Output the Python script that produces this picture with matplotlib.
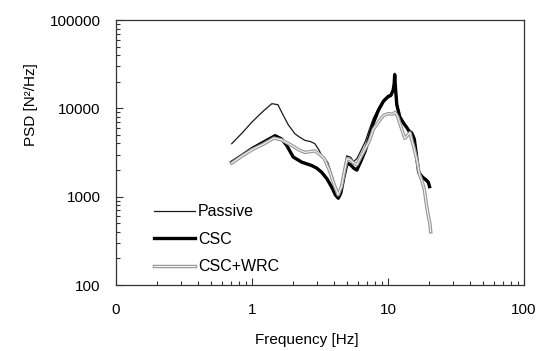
import matplotlib.pyplot as plt
import matplotlib.patheffects as pe
from matplotlib.ticker import FixedLocator, LogLocator, NullFormatter

plt.rcParams['font.family'] = ['Liberation Sans', 'DejaVu Sans']

# Passive
freq_passive = [0.71, 0.85, 1.0, 1.2, 1.4, 1.55, 1.7, 1.85, 2.07, 2.25, 2.45, 2.7,
                2.9, 3.1, 3.25, 3.6, 3.9, 4.15, 4.35, 4.6, 4.97, 5.3, 5.6, 5.9,
                6.3, 6.8, 7.3, 7.8, 8.5, 9.25, 10.0, 10.5, 10.9, 11.1, 11.2, 11.35,
                11.6, 12.2, 13.0, 13.7, 14.3, 14.9, 15.6, 16.3, 16.8, 17.2, 18.0,
                19.0, 19.8]
psd_passive = [3980, 5300, 7000, 9200, 11300, 11000, 8300, 6500, 5150, 4700, 4340, 4200,
               3980, 3400, 2940, 2460, 1700, 1200, 1050, 1500, 2900, 2800, 2500, 2700,
               3300, 4200, 5800, 7700, 10000, 12500, 14000, 14500, 16500, 20000, 25000, 19000,
               12000, 8200, 7000, 6200, 5600, 5400, 4800, 3000, 2100, 1800, 1700,
               1600, 1500]

# CSC
freq_csc = [0.71, 0.85, 1.0, 1.2, 1.48, 1.65, 1.8, 2.01, 2.32, 2.75, 3.0, 3.25,
            3.55, 3.86, 4.1, 4.31, 4.5, 4.75, 5.0, 5.3, 5.6, 5.9, 6.3, 6.8,
            7.3, 7.8, 8.5, 9.25, 10.0, 10.5, 10.9, 11.1, 11.2, 11.35, 11.6, 12.2,
            13.0, 13.7, 14.3, 14.9, 15.6, 16.3, 16.8, 17.2, 18.0, 19.0, 19.8, 20.2]
psd_csc = [2460, 2950, 3500, 4100, 4900, 4500, 3800, 2810, 2460, 2250, 2100, 1890,
           1600, 1280, 1050, 960, 1100, 1700, 2400, 2300, 2100, 2000, 2500, 3300,
           4800, 6800, 9500, 12000, 13500, 14000, 16000, 19000, 24000, 17000, 11000, 8000,
           6800, 6100, 5500, 5300, 4500, 2700, 1900, 1800, 1650, 1550, 1450, 1300]

# CSC+WRC
freq_wrc = [0.71, 0.85, 1.0, 1.2, 1.45, 1.65, 1.96, 2.2, 2.45, 2.9, 3.2, 3.4,
            3.7, 4.0, 4.3, 4.55, 4.8, 5.0, 5.3, 5.6, 5.9, 6.3, 6.8, 7.3,
            7.8, 8.5, 9.25, 10.0, 10.8, 11.3, 11.8, 12.2, 13.3, 14.0, 14.5, 15.0,
            15.5, 16.3, 17.0, 17.8, 18.5, 19.2, 19.8, 20.3, 20.6]
psd_wrc = [2400, 2900, 3400, 3900, 4600, 4400, 3800, 3400, 3170, 3300, 2950, 2700,
           2000, 1400, 1050, 1300, 2000, 2700, 2600, 2400, 2300, 2800, 3500, 4300,
           5800, 7000, 8300, 8700, 8600, 9000, 8000, 6800, 4570, 5000, 5300, 4300,
           3600, 2600, 1800, 1500, 1200, 800, 600, 500, 400]

x_ticks = [0.1, 1, 10, 100]
x_tick_labels = ['0', '1', '10', '100']
y_ticks = [100, 1000, 10000, 100000]
y_tick_labels = ['100', '1000', '10000', '100000']

fig = plt.figure(figsize=(5.47, 3.51), dpi=100)
ax = fig.add_axes([0.212, 0.188, 0.746, 0.755])

ax.plot(freq_passive, psd_passive, color='#1a1a1a', lw=0.9, label='Passive')
ax.plot(freq_csc, psd_csc, color='black', lw=2.4, label='CSC')
ax.plot(freq_wrc, psd_wrc, color='#f2f2f2', lw=0.8, label='CSC+WRC',
        path_effects=[pe.Stroke(linewidth=2.5, foreground='#9a9a9a'), pe.Normal()])

ax.set_xscale('log')
ax.set_yscale('log')
ax.set_xlim(0.1, 100)
ax.set_ylim(100, 100000)

ax.xaxis.set_major_locator(FixedLocator(x_ticks))
ax.set_xticklabels(x_tick_labels)
ax.yaxis.set_major_locator(FixedLocator(y_ticks))
ax.set_yticklabels(y_tick_labels)
for axis in (ax.xaxis, ax.yaxis):
    axis.set_minor_locator(LogLocator(base=10, subs=range(2, 10)))
    axis.set_minor_formatter(NullFormatter())

ax.tick_params(which='both', direction='in', labelsize=11, color='#333333')
ax.tick_params(which='major', length=5, width=0.8)
ax.tick_params(which='minor', length=3, width=0.8)
ax.tick_params(axis='x', pad=13)
ax.tick_params(axis='y', pad=11)

for side in ax.spines.values():
    side.set_color('#333333')
    side.set_linewidth(0.9)

ax.set_xlabel('Frequency [Hz]', fontsize=11)
ax.set_ylabel('PSD [N²/Hz]', fontsize=11)
ax.xaxis.set_label_coords(0.468, -0.18)
ax.yaxis.set_label_coords(-0.19, 0.68)

ax.legend(loc='upper left', bbox_to_anchor=(0.093, 0.305), frameon=False,
          fontsize=11.5, handlelength=2.6, handletextpad=0.15, labelspacing=0.78,
          borderpad=0, borderaxespad=0)

fig.savefig('out.png', dpi=100)
